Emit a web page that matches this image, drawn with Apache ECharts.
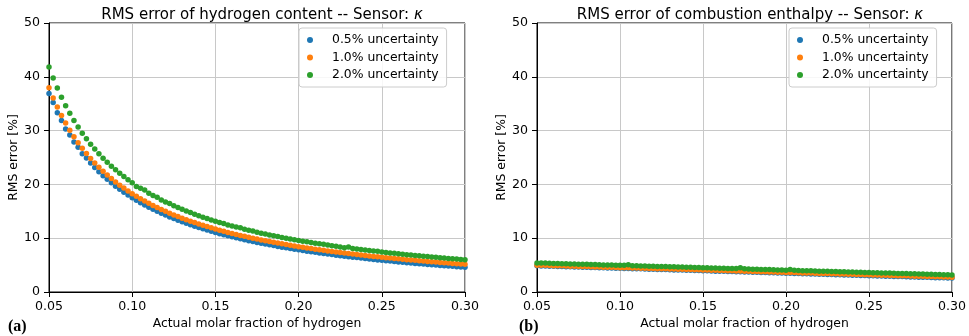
<!DOCTYPE html>
<html><head><meta charset="utf-8">
<script src="https://cdn.jsdelivr.net/npm/echarts@6/dist/echarts.min.js"></script>
<style>html,body{margin:0;padding:0;background:#fff}#c{width:969px;height:336px}</style>
</head><body><div id="c"></div>
<script>
// ---- data ----
const xs = [
0.05,0.0525,0.055,0.0575,0.06,0.0625,0.065,0.0675,0.07,0.0725,
0.075,0.0775,0.08,0.0825,0.085,0.0875,0.09,0.0925,0.095,0.0975,
0.1,0.1025,0.105,0.1075,0.11,0.1125,0.115,0.1175,0.12,0.1225,
0.125,0.1275,0.13,0.1325,0.135,0.1375,0.14,0.1425,0.145,0.1475,
0.15,0.1525,0.155,0.1575,0.16,0.1625,0.165,0.1675,0.17,0.1725,
0.175,0.1775,0.18,0.1825,0.185,0.1875,0.19,0.1925,0.195,0.1975,
0.2,0.2025,0.205,0.2075,0.21,0.2125,0.215,0.2175,0.22,0.2225,
0.225,0.2275,0.23,0.2325,0.235,0.2375,0.24,0.2425,0.245,0.2475,
0.25,0.2525,0.255,0.2575,0.26,0.2625,0.265,0.2675,0.27,0.2725,
0.275,0.2775,0.28,0.2825,0.285,0.2875,0.29,0.2925,0.295,0.2975,
0.3];

// Panel (a): RMS error of hydrogen content
const h05 = [
36.90,35.20,33.30,31.90,30.30,29.20,27.90,26.90,25.70,24.90,
23.98,23.15,22.37,21.63,20.94,20.29,19.67,19.09,18.54,18.02,
17.52,17.05,16.60,16.17,15.76,15.37,14.99,14.63,14.29,13.96,
13.64,13.34,13.05,12.77,12.50,12.24,11.98,11.74,11.51,11.28,
11.06,10.85,10.64,10.44,10.25,10.07,9.89,9.71,9.54,9.37,
9.21,9.06,8.91,8.76,8.62,8.48,8.34,8.21,8.08,7.95,
7.83,7.71,7.59,7.48,7.37,7.26,7.15,7.05,6.95,6.85,
6.75,6.66,6.57,6.48,6.39,6.30,6.22,6.13,6.05,5.97,
5.89,5.81,5.74,5.67,5.59,5.52,5.45,5.38,5.32,5.25,
5.19,5.12,5.06,5.00,4.94,4.88,4.82,4.77,4.71,4.65,
4.60];
const h10 = [
37.95,36.08,34.38,32.81,31.39,30.08,28.87,27.74,26.71,25.73,
24.83,23.99,23.20,22.44,21.74,21.08,20.45,19.86,19.31,18.78,
18.27,17.79,17.34,16.90,16.48,16.09,15.70,15.34,14.99,14.65,
14.33,14.03,13.73,13.45,13.17,12.91,12.64,12.40,12.17,11.93,
11.71,11.50,11.28,11.08,10.89,10.70,10.52,10.34,10.17,9.99,
9.83,9.68,9.53,9.37,9.23,9.09,8.95,8.82,8.68,8.55,
8.43,8.31,8.19,8.07,7.96,7.85,7.74,7.64,7.54,7.43,
7.33,7.24,7.15,7.06,6.97,6.88,6.80,6.70,6.62,6.54,
6.46,6.38,6.31,6.24,6.16,6.08,6.01,5.94,5.88,5.81,
5.75,5.68,5.62,5.56,5.50,5.43,5.37,5.32,5.26,5.20,
5.15];
const h20 = [
41.80,39.76,37.90,36.19,34.64,33.21,31.89,30.66,29.53,28.47,
27.48,26.56,25.70,24.88,24.11,23.39,22.70,22.06,21.45,20.87,
20.32,19.62,19.30,18.95,18.37,17.94,17.60,17.12,16.74,16.45,
16.02,15.69,15.37,15.05,14.76,14.47,14.18,13.91,13.66,13.40,
13.16,12.93,12.75,12.47,12.26,12.06,11.95,11.66,11.48,11.35,
11.11,10.94,10.78,10.61,10.46,10.30,10.15,10.00,9.86,9.71,
9.58,9.45,9.36,9.19,9.07,8.95,8.88,8.72,8.60,8.49,
8.38,8.22,8.35,8.08,7.98,7.92,7.80,7.70,7.61,7.56,
7.43,7.34,7.26,7.19,7.10,7.02,6.94,6.86,6.80,6.72,
6.65,6.58,6.51,6.44,6.38,6.31,6.24,6.19,6.12,6.06,
6.00];

// Panel (b): RMS error of combustion enthalpy
const e05 = [
4.87,4.85,4.83,4.80,4.78,4.76,4.73,4.71,4.69,4.67,
4.64,4.62,4.60,4.57,4.55,4.53,4.50,4.48,4.46,4.43,
4.41,4.39,4.36,4.34,4.32,4.30,4.27,4.25,4.23,4.20,
4.18,4.16,4.14,4.11,4.09,4.07,4.04,4.02,4.00,3.98,
3.95,3.93,3.91,3.88,3.86,3.84,3.82,3.79,3.77,3.75,
3.72,3.70,3.68,3.66,3.63,3.61,3.59,3.56,3.54,3.52,
3.50,3.47,3.45,3.43,3.40,3.38,3.36,3.34,3.31,3.29,
3.27,3.24,3.22,3.20,3.18,3.15,3.13,3.11,3.08,3.06,
3.04,3.02,2.99,2.97,2.95,2.92,2.90,2.88,2.86,2.83,
2.81,2.79,2.76,2.74,2.72,2.70,2.67,2.65,2.63,2.60,
2.58];
const e10 = [
4.98,4.97,4.95,4.93,4.90,4.88,4.86,4.83,4.80,4.79,
4.76,4.74,4.72,4.70,4.67,4.65,4.62,4.61,4.58,4.56,
4.53,4.51,4.49,4.48,4.45,4.43,4.41,4.38,4.37,4.34,
4.32,4.30,4.28,4.26,4.23,4.21,4.19,4.16,4.14,4.12,
4.09,4.08,4.05,4.02,4.00,3.98,3.96,3.94,3.92,3.90,
3.88,3.86,3.83,3.81,3.78,3.76,3.74,3.71,3.69,3.67,
3.64,3.62,3.61,3.58,3.55,3.53,3.51,3.49,3.46,3.44,
3.42,3.40,3.38,3.36,3.33,3.31,3.29,3.26,3.24,3.22,
3.20,3.17,3.15,3.13,3.11,3.09,3.06,3.04,3.02,3.00,
2.98,2.95,2.93,2.91,2.89,2.86,2.84,2.82,2.80,2.77,
2.75];
const e20 = [
5.40,5.41,5.37,5.35,5.31,5.30,5.27,5.25,5.22,5.21,
5.18,5.16,5.14,5.11,5.09,5.07,5.04,5.03,5.00,4.98,
4.95,4.97,5.06,4.90,4.87,4.85,4.83,4.80,4.78,4.76,
4.74,4.72,4.70,4.68,4.65,4.63,4.60,4.58,4.56,4.54,
4.51,4.49,4.46,4.44,4.42,4.40,4.38,4.36,4.35,4.50,
4.31,4.27,4.25,4.22,4.20,4.18,4.16,4.13,4.11,4.08,
4.06,4.17,4.03,3.99,3.97,3.95,3.93,3.91,3.88,3.86,
3.84,3.82,3.80,3.77,3.75,3.73,3.71,3.68,3.66,3.64,
3.62,3.59,3.57,3.55,3.53,3.51,3.48,3.46,3.44,3.42,
3.40,3.37,3.35,3.33,3.31,3.28,3.26,3.24,3.22,3.19,
3.17];

const seriesNames = ['0.5% uncertainty','1.0% uncertainty','2.0% uncertainty'];
const xTickLabels = ['0.05','0.10','0.15','0.20','0.25','0.30'];
const yTickLabels = ['0','10','20','30','40','50'];
const titles = ['RMS error of hydrogen content -- Sensor: ', 'RMS error of combustion enthalpy -- Sensor: '];
const panelTags = ['(a)','(b)'];

// ---- chart ----
const colors = ['#1f77b4','#ff7f0e','#2ca02c'];
const FONT = 'DejaVu Sans';
const pair = ys => xs.map((x,i)=>[x, ys[i]]);

function xAxis(gi){
  return {
    type:'value', gridIndex:gi, min:0.05, max:0.30, interval:0.05,
    name:'Actual molar fraction of hydrogen', nameLocation:'middle', nameGap:25,
    nameTextStyle:{fontFamily:FONT, fontSize:12.4, color:'#000'},
    axisLine:{show:true, onZero:false, lineStyle:{color:'#000', width:1}},
    axisTick:{show:true, inside:false, length:5, lineStyle:{color:'#000'}},
    axisLabel:{fontFamily:FONT, fontSize:12.6, color:'#000', margin:8,
      formatter:v=>xTickLabels[Math.round((v-0.05)/0.05)]},
    splitLine:{show:true, lineStyle:{color:'#c8c8c8', width:1}}
  };
}
function yAxis(gi){
  return {
    type:'value', gridIndex:gi, min:0, max:50, interval:10,
    name:'RMS error [%]', nameLocation:'middle', nameGap:28,
    nameTextStyle:{fontFamily:FONT, fontSize:12.4, color:'#000'},
    axisLine:{show:true, lineStyle:{color:'#000', width:1}},
    axisTick:{show:true, inside:false, length:5, lineStyle:{color:'#000'}},
    axisLabel:{fontFamily:FONT, fontSize:12.6, color:'#000', margin:9,
      formatter:v=>yTickLabels[Math.round(v/10)]},
    splitLine:{show:true, lineStyle:{color:'#c8c8c8', width:1}}
  };
}
function legend(left){
  return {
    left:left, top:28, orient:'vertical',
    data:seriesNames, icon:'circle', itemWidth:34, itemHeight:6, itemGap:5.5,
    padding:[6,8,6,8],
    backgroundColor:'rgba(255,255,255,0.85)', borderColor:'#cccccc', borderWidth:1, borderRadius:3,
    textStyle:{fontFamily:FONT, fontSize:12.4, color:'#000'}
  };
}
function sc(name, gi, ys, ci){
  return {type:'scatter', name:name, xAxisIndex:gi, yAxisIndex:gi, data:pair(ys),
    symbol:'circle', symbolSize:5.5, itemStyle:{color:colors[ci], opacity:1}, z:2+ci, silent:true};
}
function titleObj(text, cx){
  return {text:text+'{i|κ}', left:cx, top:3, textAlign:'center',
    textStyle:{fontFamily:FONT, fontSize:15, fontWeight:'normal', color:'#000',
      rich:{i:{fontFamily:FONT, fontSize:15, fontStyle:'italic', color:'#000'}}}};
}
const chart = echarts.init(document.getElementById('c'), null, {renderer:'canvas'});
chart.setOption({
  animation:false,
  backgroundColor:'#fff',
  title:[
    titleObj(titles[0], 257),
    titleObj(titles[1], 745),
    {text:panelTags[0], left:3, top:314, textStyle:{fontFamily:'Liberation Serif', fontWeight:'bold', fontSize:16, color:'#000'}},
    {text:panelTags[1], left:514, top:314, textStyle:{fontFamily:'Liberation Serif', fontWeight:'bold', fontSize:16, color:'#000'}}
  ],
  legend:[legend(299), legend(789)],
  grid:[
    {left:49, right:504, top:23, bottom:44, show:true, borderColor:'#000', borderWidth:1, backgroundColor:'transparent'},
    {left:537, right:16, top:23, bottom:44, show:true, borderColor:'#000', borderWidth:1, backgroundColor:'transparent'}
  ],
  xAxis:[xAxis(0), xAxis(1)],
  yAxis:[yAxis(0), yAxis(1)],
  series:[
    sc(seriesNames[0],0,h05,0), sc(seriesNames[1],0,h10,1), sc(seriesNames[2],0,h20,2),
    sc(seriesNames[0],1,e05,0), sc(seriesNames[1],1,e10,1), sc(seriesNames[2],1,e20,2)
  ]
});
</script>
</body></html>
